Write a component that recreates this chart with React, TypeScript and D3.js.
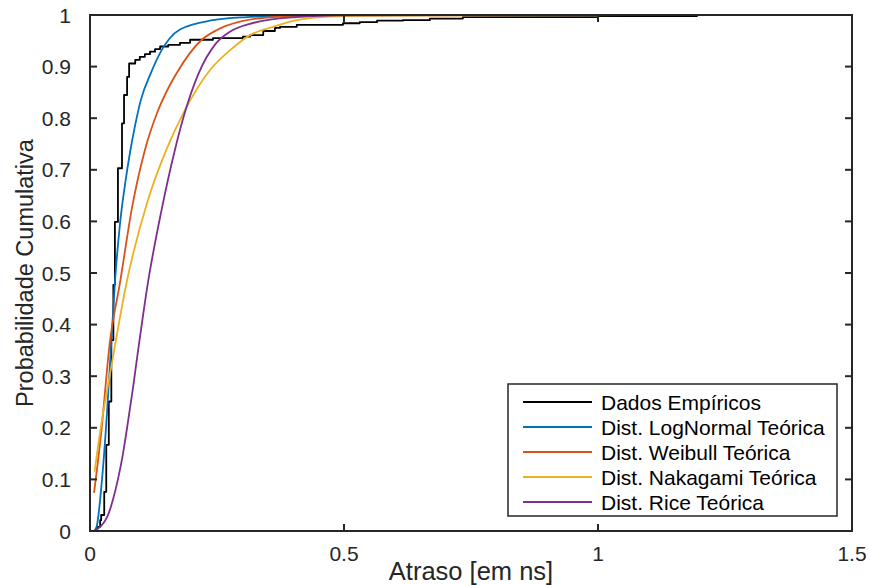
import React from "react";
import * as d3 from "d3";

// Empirical CDF (step points: x where CDF jumps, value after the jump)
const empX = [0.008, 0.014, 0.020, 0.022, 0.028, 0.032, 0.037, 0.042, 0.046, 0.049, 0.055, 0.063, 0.067, 0.073, 0.077, 0.089, 0.098, 0.108, 0.118, 0.128, 0.138, 0.154, 0.177, 0.197, 0.242, 0.301, 0.315, 0.341, 0.364, 0.374, 0.407, 0.498, 0.531, 0.565, 0.616, 0.669, 0.734, 1.0, 1.195];
const empP = [0.0, 0.008, 0.021, 0.031, 0.076, 0.167, 0.251, 0.370, 0.477, 0.599, 0.703, 0.790, 0.845, 0.880, 0.906, 0.913, 0.919, 0.924, 0.929, 0.934, 0.939, 0.942, 0.946, 0.952, 0.955, 0.958, 0.961, 0.969, 0.975, 0.977, 0.981, 0.984, 0.986, 0.989, 0.990, 0.993, 0.996, 0.998, 1.0];

const logNormX = [0.008, 0.013, 0.023, 0.033, 0.041, 0.049, 0.059, 0.069, 0.079, 0.089, 0.100, 0.120, 0.140, 0.157, 0.177, 0.242, 0.309, 0.374, 0.512, 1.437];
const logNormP = [0.0, 0.008, 0.093, 0.222, 0.351, 0.481, 0.595, 0.672, 0.735, 0.787, 0.835, 0.888, 0.930, 0.955, 0.972, 0.990, 0.996, 0.998, 0.9996, 1.0];

const weibullX = [0.008, 0.022, 0.039, 0.059, 0.083, 0.108, 0.132, 0.154, 0.171, 0.220, 0.250, 0.295, 0.374, 0.472, 1.437];
const weibullP = [0.074, 0.19, 0.365, 0.481, 0.628, 0.738, 0.810, 0.858, 0.888, 0.952, 0.971, 0.987, 0.997, 0.9994, 1.0];

const nakagamiX = [0.009, 0.022, 0.039, 0.073, 0.114, 0.150, 0.187, 0.236, 0.276, 0.315, 0.360, 0.407, 0.472, 0.610, 1.437];
const nakagamiP = [0.115, 0.205, 0.302, 0.486, 0.641, 0.738, 0.816, 0.893, 0.932, 0.961, 0.977, 0.990, 0.997, 0.999, 1.0];

const riceX = [0.008, 0.035, 0.045, 0.055, 0.065, 0.073, 0.085, 0.094, 0.114, 0.140, 0.167, 0.187, 0.213, 0.248, 0.276, 0.315, 0.354, 0.407, 0.492, 1.437];
const riceP = [0.0, 0.030, 0.060, 0.100, 0.150, 0.200, 0.280, 0.345, 0.481, 0.618, 0.738, 0.812, 0.885, 0.945, 0.968, 0.983, 0.991, 0.996, 0.9995, 1.0];

const xTicks = [0, 0.5, 1, 1.5];
const yTicks = [0, 0.1, 0.2, 0.3, 0.4, 0.5, 0.6, 0.7, 0.8, 0.9, 1];

const seriesNames = [
  "Dados Empíricos",
  "Dist. LogNormal Teórica",
  "Dist. Weibull Teórica",
  "Dist. Nakagami Teórica",
  "Dist. Rice Teórica",
];
const seriesColors = ["#000000", "#0072BD", "#D95319", "#EDB120", "#7E2F8E"];

const xLabel = "Atraso [em ns]";
const yLabel = "Probabilidade Cumulativa";

const W = 870;
const H = 585;
const M = { left: 90, right: 18, top: 15, bottom: 54 };
const FONT = "'Liberation Sans', Arial, Helvetica, sans-serif";
const AX = "#262626";

export default function App() {
  const x = d3.scaleLinear().domain([0, 1.5]).range([M.left, W - M.right]);
  const y = d3.scaleLinear().domain([0, 1]).range([H - M.bottom, M.top]);

  const zip = (xs: number[], ps: number[]) => xs.map((v, i) => [v, ps[i]] as [number, number]);

  const stepLine = d3
    .line<[number, number]>()
    .x((d) => x(d[0]))
    .y((d) => y(d[1]))
    .curve(d3.curveStepAfter);
  const smoothLine = d3
    .line<[number, number]>()
    .x((d) => x(d[0]))
    .y((d) => y(d[1]))
    .curve(d3.curveMonotoneX);

  const paths = [
    stepLine(zip(empX, empP)),
    smoothLine(zip(logNormX, logNormP)),
    smoothLine(zip(weibullX, weibullP)),
    smoothLine(zip(nakagamiX, nakagamiP)),
    smoothLine(zip(riceX, riceP)),
  ];

  const x0 = M.left;
  const x1 = W - M.right;
  const y0 = H - M.bottom;
  const y1 = M.top;
  const tl = 7;

  const leg = { x: 508, y: 384, w: 329, h: 132, row: 25 };

  return (
    <svg
      width={W}
      height={H}
      style={{ position: "absolute", left: 0, top: 0, background: "#fff" }}
      fontFamily={FONT}
    >
      <rect x={0} y={0} width={W} height={H} fill="#fff" />
      <defs>
        <clipPath id="plotclip">
          <rect x={x0} y={y1 - 2} width={x1 - x0} height={y0 - y1 + 2} />
        </clipPath>
      </defs>
      <g clipPath="url(#plotclip)">
        {paths.map((p, i) => (
          <path
            key={i}
            d={p || ""}
            fill="none"
            stroke={seriesColors[i]}
            strokeWidth={1.8}
            strokeLinejoin="round"
          />
        ))}
      </g>
      {/* box */}
      <rect x={x0} y={y1} width={x1 - x0} height={y0 - y1} fill="none" stroke={AX} strokeWidth={2} />
      {/* x ticks */}
      {xTicks.map((t) => (
        <g key={"xt" + t}>
          <line x1={x(t)} x2={x(t)} y1={y0} y2={y0 - tl} stroke={AX} strokeWidth={2} />
          <line x1={x(t)} x2={x(t)} y1={y1} y2={y1 + tl} stroke={AX} strokeWidth={2} />
          <text x={x(t)} y={y0 + 30} textAnchor="middle" fontSize={21} fill={AX}>
            {String(t)}
          </text>
        </g>
      ))}
      {/* y ticks */}
      {yTicks.map((t) => (
        <g key={"yt" + t}>
          <line x1={x0} x2={x0 + tl} y1={y(t)} y2={y(t)} stroke={AX} strokeWidth={2} />
          <line x1={x1} x2={x1 - tl} y1={y(t)} y2={y(t)} stroke={AX} strokeWidth={2} />
          <text x={x0 - 19} y={y(t) + 7.5} textAnchor="end" fontSize={21} fill={AX}>
            {String(+t.toFixed(1))}
          </text>
        </g>
      ))}
      <text x={(x0 + x1) / 2} y={H - 5} textAnchor="middle" fontSize={25.5} fill={AX}>
        {xLabel}
      </text>
      <text
        transform={`translate(33, ${(y0 + y1) / 2}) rotate(-90)`}
        textAnchor="middle"
        fontSize={23.5}
        fill={AX}
      >
        {yLabel}
      </text>
      {/* legend */}
      <rect x={leg.x} y={leg.y} width={leg.w} height={leg.h} fill="#fff" stroke={AX} strokeWidth={1.5} />
      {seriesNames.map((n, i) => {
        const cy = leg.y + 18 + i * leg.row;
        return (
          <g key={n}>
            <line x1={leg.x + 15} x2={leg.x + 84} y1={cy} y2={cy} stroke={seriesColors[i]} strokeWidth={1.8} />
            <text x={leg.x + 93} y={cy + 7.5} fontSize={21} fill="#000">
              {n}
            </text>
          </g>
        );
      })}
    </svg>
  );
}
